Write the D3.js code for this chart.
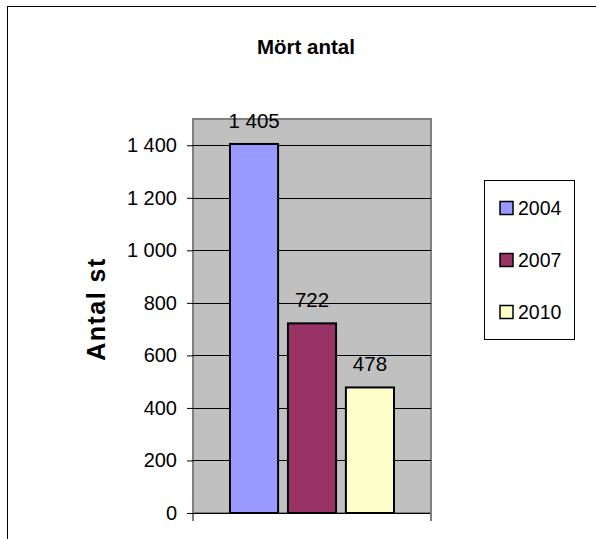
<!DOCTYPE html>
<html><head><meta charset="utf-8">
<script src="https://cdn.jsdelivr.net/npm/d3@7"></script>
<style>html,body{margin:0;padding:0;background:#fff;}svg{display:block;font-family:Arial,"Liberation Sans",sans-serif;}</style>
</head><body>
<script>
const categories = ["Mört"];
const years = ["2004", "2007", "2010"];
const values = [1405, 722, 478];
const valueLabels = ["1 405", "722", "478"];
const colors = ["#9999FF", "#993366", "#FFFFCC"];
const tickValues = [0, 200, 400, 600, 800, 1000, 1200, 1400];
const tickLabels = ["0", "200", "400", "600", "800", "1 000", "1 200", "1 400"];

const W = 596, H = 539;
const svg = d3.select("body").append("svg").attr("width", W).attr("height", H);

// outer chart border
svg.append("rect").attr("x", 7.5).attr("y", 6.5).attr("width", 620).attr("height", 620)
  .attr("fill", "#fff").attr("stroke", "#000").attr("stroke-width", 1);

const plot = {left: 193, right: 431, top: 119, bottom: 513};
const y = d3.scaleLinear().domain([0, 1500]).range([plot.bottom, plot.top]);
const x0 = d3.scaleBand().domain(categories).range([plot.left, plot.right]).paddingOuter(0.2256);
const x1 = d3.scaleBand().domain(years).range([0, x0.bandwidth()]).paddingInner(0.17);

// plot area
svg.append("rect").attr("x", plot.left).attr("y", plot.top)
  .attr("width", plot.right - plot.left).attr("height", plot.bottom - plot.top)
  .attr("fill", "#C0C0C0").attr("stroke", "#808080").attr("stroke-width", 2);

// gridlines
svg.append("g").selectAll("line").data(tickValues.filter(d => d > 0)).join("line")
  .attr("x1", plot.left).attr("x2", plot.right)
  .attr("y1", d => Math.round(y(d)) + 0.5).attr("y2", d => Math.round(y(d)) + 0.5)
  .attr("stroke", "#000").attr("stroke-width", 1);

// y axis
const yAxis = d3.axisLeft(y).tickValues(tickValues)
  .tickFormat((d, i) => tickLabels[i]).tickSize(6).tickPadding(10);
const gy = svg.append("g").attr("transform", `translate(${plot.left},0)`).call(yAxis);
gy.select(".domain").remove();
gy.selectAll(".tick line").attr("stroke", "#000");
gy.selectAll(".tick text").attr("font-size", 20).attr("fill", "#000")
  .attr("font-family", "Arial, 'Liberation Sans', sans-serif");

// x axis line + ticks
const gx = svg.append("g");
gx.append("line").attr("x1", plot.left).attr("x2", plot.right)
  .attr("y1", plot.bottom + 0.5).attr("y2", plot.bottom + 0.5).attr("stroke", "#000");
gx.selectAll("line.t").data([plot.left, plot.right]).join("line").attr("class", "t")
  .attr("x1", d => d).attr("x2", d => d).attr("y1", plot.bottom).attr("y2", plot.bottom + 8)
  .attr("stroke", (d, i) => i ? "#808080" : "#000").attr("stroke-width", (d, i) => i ? 2 : 1);

// bars
const g = svg.append("g").attr("transform", `translate(${x0(categories[0])},0)`);
g.selectAll("rect").data(values).join("rect")
  .attr("x", (d, i) => x1(years[i]))
  .attr("y", d => y(d))
  .attr("width", x1.bandwidth())
  .attr("height", d => y(0) - y(d))
  .attr("fill", (d, i) => colors[i])
  .attr("stroke", "#000").attr("stroke-width", 2);

g.selectAll("text").data(values).join("text")
  .attr("x", (d, i) => x1(years[i]) + x1.bandwidth() / 2)
  .attr("y", d => y(d) - 16)
  .attr("text-anchor", "middle").attr("font-size", 20.5).attr("fill", "#000")
  .text((d, i) => valueLabels[i]);

// title
svg.append("text").attr("x", 306).attr("y", 54).attr("text-anchor", "middle")
  .attr("font-size", 20.5).attr("font-weight", "bold").text("Mört antal");

// y axis title
svg.append("text").attr("transform", "translate(105,309) rotate(-90)")
  .attr("text-anchor", "middle").attr("font-size", 25).attr("font-weight", "bold")
  .attr("letter-spacing", 1.5).text("Antal st");

// legend
const leg = svg.append("g");
leg.append("rect").attr("x", 484.5).attr("y", 180.5).attr("width", 90).attr("height", 159)
  .attr("fill", "#fff").attr("stroke", "#000").attr("stroke-width", 1);
const rowY = [208, 260, 312];
years.forEach((yr, i) => {
  leg.append("rect").attr("x", 500).attr("y", rowY[i] - 6.5).attr("width", 13).attr("height", 13)
    .attr("fill", colors[i]).attr("stroke", "#000").attr("stroke-width", 1.5);
  leg.append("text").attr("x", 518).attr("y", rowY[i]).attr("dy", "0.36em")
    .attr("font-size", 19.5).attr("fill", "#000").text(yr);
});
</script>
</body></html>
